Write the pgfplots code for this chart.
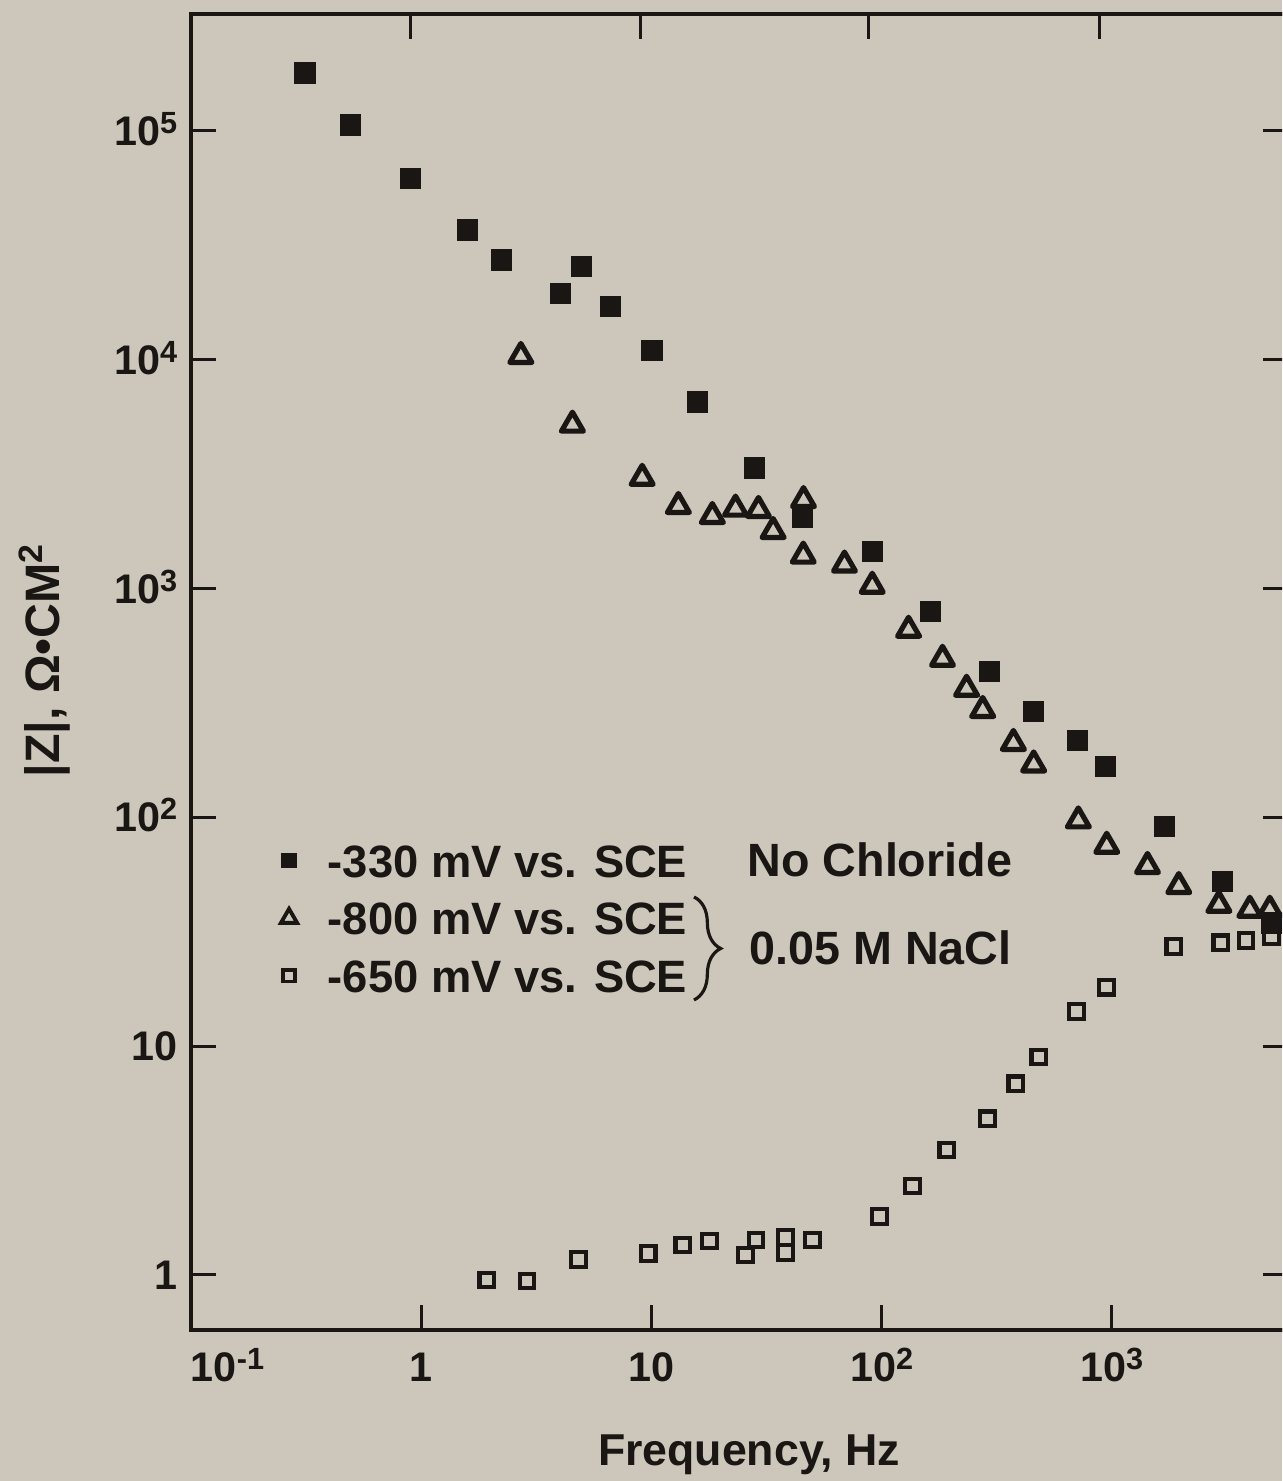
\documentclass[border=0pt]{standalone}
\usepackage{fontspec}
\setmainfont{Liberation Sans}
\usepackage{pgfplots}
\pgfplotsset{compat=1.18}
\usetikzlibrary{decorations.pathreplacing}
\definecolor{bg}{RGB}{204,199,186}
\definecolor{ink}{RGB}{26,22,20}
\newcommand{\PX}[2]{({((#1)-191)*0.3pt},{(1330-(#2))*0.3pt})}
\newcommand{\ex}[1]{\raisebox{3.6pt}{\fontsize{9.2}{9}\selectfont #1}}
\newcommand{\tickfont}{\bfseries\fontsize{12.4}{14}\selectfont}
\begin{document}
\begin{tikzpicture}
\path[use as bounding box, fill=bg] \PX{0}{0} rectangle \PX{1282}{1481};
\clip \PX{0}{0} rectangle \PX{1282}{1481};
\begin{axis}[
  at={(0,0)}, anchor=south west,
  scale only axis, width=329.1pt, height=394.8pt,
  xmode=log, ymode=log,
  xmin=0.1, xmax=5830, ymin=0.575, ymax=3.24e5,
  axis line style={ink, line width=1.1pt},
  major tick style={ink, line width=0.9pt},
  major tick length=7.5pt,
  tick align=inside,
  xminorticks=false, yminorticks=false,
  xtick={0.1,1,10,100,1000},
  xticklabels={\makebox[0pt][l]{10\ex{-1}},1,10,10\ex{2},10\ex{3}},
  ytick={1,10,100,1000,10000,100000},
  yticklabels={1,10,10\ex{2},10\ex{3},10\ex{4},10\ex{5}},
  xtick pos=lower, ytick pos=both,
  xticklabel style={anchor=base, yshift=-15.6pt, font=\tickfont, text=ink},
  yticklabel style={anchor=base east, yshift=-4.4pt, xshift=-0.6pt, font=\tickfont, text=ink},
  legend cell align=left,
  legend image code/.code={\draw[#1] plot coordinates {(0pt,0pt)};},
  legend style={at={(0.082,0.3693)}, anchor=north west, draw=none, fill=none,
    inner sep=0pt, outer sep=0pt,
    font=\bfseries\fontsize{13.6}{16}\selectfont, text=ink,
    row sep=7.25pt,
    nodes={inner sep=0pt, text height=10pt, text depth=0pt},
    /tikz/every odd column/.append style={column sep=9.2pt}},
]
\addlegendimage{only marks, mark=square*, mark size=2.1pt, color=ink}
\addlegendentry{-330 mV vs. SCE}
\addlegendimage{only marks, mark=triangle, mark size=2.8pt, color=ink, mark options={line width=1.15pt, fill=bg}}
\addlegendentry{-800 mV vs. SCE}
\addlegendimage{only marks, mark=square, mark size=1.75pt, color=ink, mark options={line width=1.05pt}}
\addlegendentry{-650 mV vs. SCE}

% -330 mV vs. SCE, no chloride
\addplot[only marks, mark=square*, mark size=3pt, color=ink, forget plot] coordinates {
(0.313,1.79e5) (0.494,1.06e5) (0.896,6.17e4) (1.585,3.69e4) (2.24,2.73e4)
(4.04,1.94e4) (4.98,2.55e4) (6.63,1.71e4) (10.06,1.10e4) (15.85,6540)
(28.0,3360) (45.4,2040) (91.4,1450) (163,793) (295,433) (458,290)
(710,216) (942,167) (1700,91) (3030,52.4) (4950,34.5)
};
% -800 mV vs. SCE, 0.05 M NaCl
\addplot[only marks, mark=triangle, mark size=3.8pt, color=ink, mark options={line width=1.55pt, line join=round, fill=bg}, forget plot] coordinates {
(2.71,10360) (4.54,5190) (9.12,3040) (13.1,2290) (18.4,2070) (23.2,2230)
(29.2,2200) (33.8,1780) (45.8,2430) (45.7,1390) (69.0,1270) (91.1,1026)
(131,659) (184,492) (234,364) (275,294) (374,211) (458,170) (716,96.8)
(951,75.0) (1430,61.2) (1955,50.0) (2920,41.4) (3980,39.4) (4860,39.4)
};
% -650 mV vs. SCE, 0.05 M NaCl
\addplot[only marks, mark=square, mark size=2.2pt, color=ink, mark options={line width=1.25pt, fill=bg}, forget plot] coordinates {
(1.93,0.951) (2.88,0.941) (4.83,1.17) (9.68,1.244) (13.7,1.352) (17.9,1.408)
(25.6,1.223) (28.5,1.422) (38.3,1.462) (38.3,1.257) (50.0,1.422) (98,1.80)
(136,2.45) (192,3.52) (289,4.81) (383,6.84) (482,8.97) (704,14.2) (951,18.1)
(1862,27.2) (2980,28.3) (3830,28.9) (4950,30.0)
};
\end{axis}
% top ticks (slightly offset in the original)
\begin{axis}[
  at={(0,0)}, anchor=south west,
  scale only axis, width=329.1pt, height=394.8pt,
  xmode=log, ymode=log,
  xmin=0.1, xmax=5830, ymin=0.575, ymax=3.24e5,
  axis line style={ink, line width=1.1pt},
  major tick style={ink, line width=0.9pt},
  major tick length=7.5pt, tick align=inside,
  xminorticks=false, yminorticks=false,
  xtick={0.896,8.96,87.8,887}, xticklabels={},
  ytick=\empty, xtick pos=upper,
]
\end{axis}
\node[anchor=base west, inner sep=0pt, text=ink, font=\bfseries\fontsize{14}{16}\selectfont] at \PX{747}{877} {No Chloride};
\node[anchor=base west, inner sep=0pt, text=ink, font=\bfseries\fontsize{14}{16}\selectfont] at \PX{749}{965} {0.05 M NaCl};
\draw[ink, line width=0.95pt, decorate, decoration={brace, amplitude=8pt}] \PX{694}{897} -- \PX{694}{1000};
\node[rotate=90, anchor=base, inner sep=0pt, text=ink, font=\bfseries\fontsize{14.5}{16}\selectfont] at \PX{60}{660} {|Z|, Ω•CM\textsuperscript{2}};
\node[anchor=base, inner sep=0pt, text=ink, font=\bfseries\fontsize{13.4}{15}\selectfont] at \PX{749}{1466} {Frequency, Hz};
\end{tikzpicture}
\end{document}
